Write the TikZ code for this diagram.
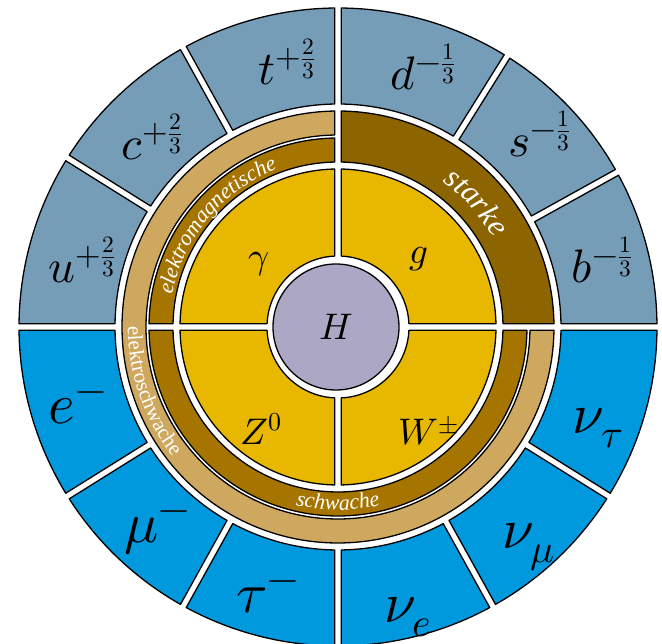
\documentclass[tikz,border=0pt]{standalone}
\usepackage{unicode-math}
\newfontfamily\bandfont{Liberation Serif}
\usetikzlibrary{decorations.text}
\definecolor{cquark}{HTML}{769DB8}
\definecolor{clepton}{HTML}{0099DE}
\definecolor{ctan}{HTML}{CFA860}
\definecolor{cbrown}{HTML}{A57500}
\definecolor{cstrong}{HTML}{8C6400}
\definecolor{cyellow}{HTML}{E8B800}
\definecolor{chiggs}{HTML}{ACA7C4}
\newcommand{\gapw}{3.3}
% annular sector with straight white gaps: start, end, inner r, outer r, colour
\newcommand{\ringpart}[5]{%
  \pgfmathsetmacro\ia{#1+asin(\gapw/#3)}
  \pgfmathsetmacro\oa{#1+asin(\gapw/#4)}
  \pgfmathsetmacro\ib{#2-asin(\gapw/#3)}
  \pgfmathsetmacro\ob{#2-asin(\gapw/#4)}
  \draw[part=#5] (\ia:#3pt) -- (\oa:#4pt) arc[start angle=\oa, end angle=\ob, radius=#4pt]
    -- (\ib:#3pt) arc[start angle=\ib, end angle=\ia, radius=#3pt] -- cycle;
}
\tikzset{
  every picture/.style={line width=1.3pt},
  part/.style={draw=black, fill=#1, line join=round},
  quark/.style={font=\fontsize{47}{47}\selectfont, inner sep=0pt},
  lepton/.style={font=\fontsize{57}{57}\selectfont, inner sep=0pt},
  boson/.style={font=\fontsize{37}{37}\selectfont, inner sep=0pt},
  bandtext/.style={decorate, decoration={text along path, text align=center, text color=white, text={#1}}},
}

\begin{document}
\begin{tikzpicture}[x=1pt, y=1pt]
  \useasboundingbox (-338,-317) rectangle (324,327);
  % quarks
  \ringpart{0}{29}{223}{319}{cquark}
  \ringpart{29}{58}{223}{319}{cquark}
  \ringpart{58}{90}{223}{319}{cquark}
  \ringpart{90}{119}{223}{319}{cquark}
  \ringpart{119}{148}{223}{319}{cquark}
  \ringpart{148}{180}{223}{319}{cquark}
  % leptons
  \ringpart{180}{212}{223}{319}{clepton}
  \ringpart{212}{241}{223}{319}{clepton}
  \ringpart{241}{270}{223}{319}{clepton}
  \ringpart{270}{299}{223}{319}{clepton}
  \ringpart{299}{328}{223}{319}{clepton}
  \ringpart{328}{360}{223}{319}{clepton}
  % interactions
  \ringpart{90}{360}{192}{216}{ctan}
  \ringpart{0}{90}{165}{216}{cstrong}
  \ringpart{90}{180}{165}{189}{cbrown}
  \ringpart{180}{360}{165}{189}{cbrown}
  % gauge bosons
  \ringpart{0}{90}{71}{158}{cyellow}
  \ringpart{90}{180}{71}{158}{cyellow}
  \ringpart{180}{270}{71}{158}{cyellow}
  \ringpart{270}{360}{71}{158}{cyellow}
  \node[part=chiggs, circle, minimum size=126pt, boson] (h) at (-2,0) {$H$};

  \node[quark] (b) at (264,67) {$b^{-\frac{1}{3}}$};
  \node[quark] (s) at (202,193) {$s^{-\frac{1}{3}}$};
  \node[quark] (d) at (85,260) {$d^{-\frac{1}{3}}$};
  \node[quark] (t) at (-51,265) {$t^{+\frac{2}{3}}$};
  \node[quark] (c) at (-186,190) {$c^{+\frac{2}{3}}$};
  \node[quark] (u) at (-256,67) {$u^{+\frac{2}{3}}$};
  \node[lepton] (e) at (-260,-81) {$e^{-}$};
  \node[lepton] (mu) at (-181,-206) {$\mu^{-}$};
  \node[lepton] (tau) at (-70,-270) {$\tau^{-}$};
  \node[lepton] (nue) at (70,-290) {$\nu_{e}$};
  \node[lepton] (num) at (191,-220) {$\nu_{\mu}$};
  \node[lepton] (nut) at (260,-101) {$\nu_{\tau}$};
  \node[boson] (gam) at (-79,63) {$\gamma$};
  \node[boson] (g) at (81,68) {$g$};
  \node[boson] (z) at (-77,-102) {$Z^{0}$};
  \node[boson] (w) at (91,-104) {$W^{\pm}$};

  \path[bandtext={|\fontsize{22}{22}\selectfont\bandfont\itshape|elektromagnetische}]
    (178:169pt) arc[start angle=178, end angle=102, radius=169pt];
  \path[bandtext={|\fontsize{31}{31}\selectfont\bandfont\itshape|starke}]
    (66:179pt) arc[start angle=66, end angle=18, radius=179pt];
  \path[bandtext={|\fontsize{22}{22}\selectfont\bandfont\itshape|schwache}]
    (245:183pt) arc[start angle=245, end angle=295, radius=183pt];
  \path[bandtext={|\fontsize{21}{21}\selectfont\bandfont|elektroschwache}]
    (158:210pt) arc[start angle=158, end angle=240, radius=210pt];
\end{tikzpicture}
\end{document}
